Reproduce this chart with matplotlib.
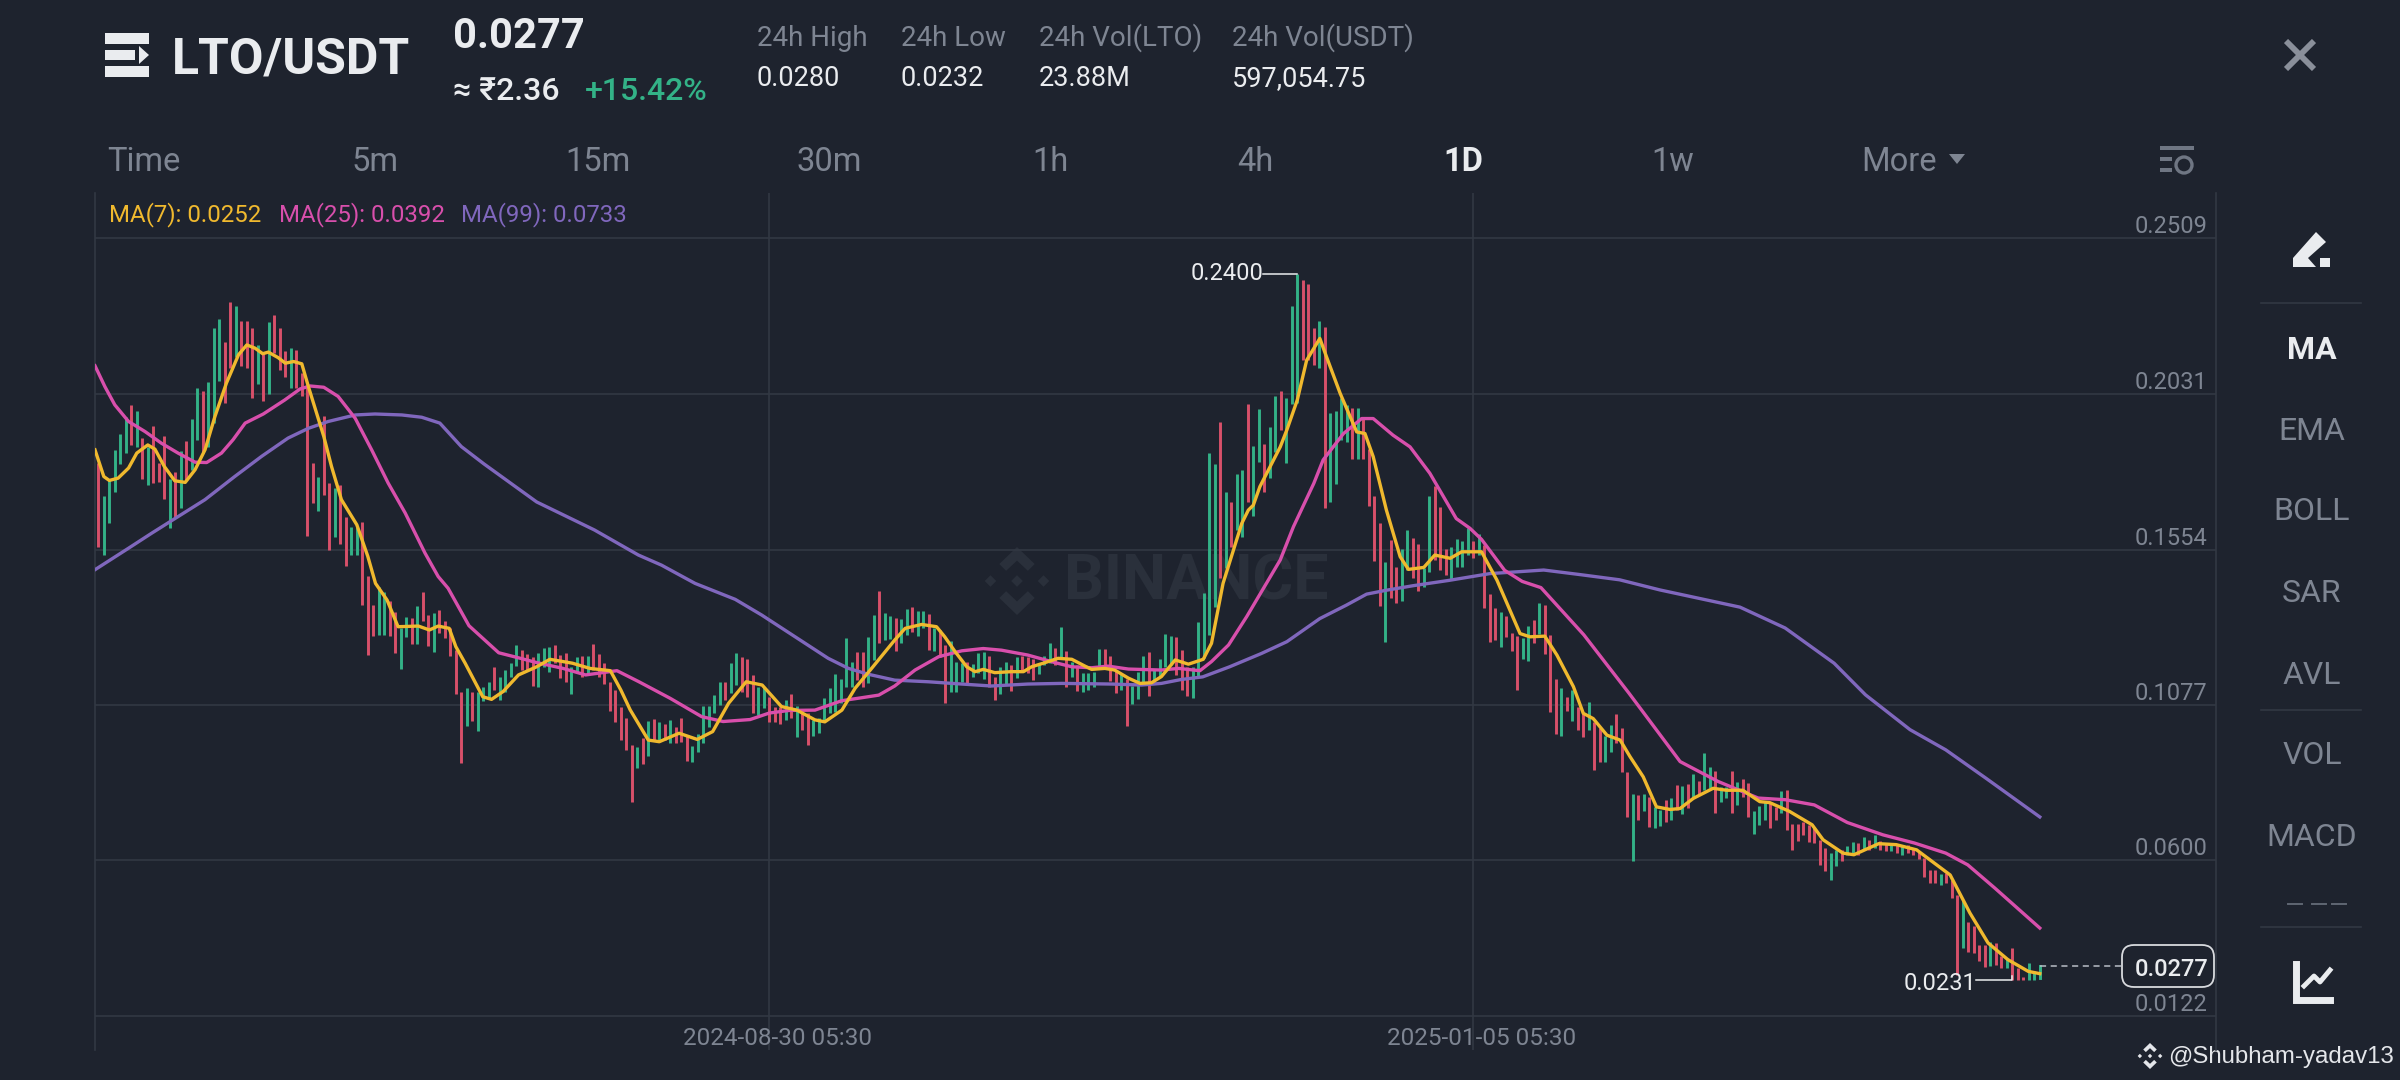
import matplotlib
matplotlib.use("Agg")
import matplotlib.pyplot as plt
from matplotlib.patches import Polygon, Rectangle, FancyBboxPatch, Circle
from matplotlib.transforms import ScaledTranslation

BG = "#1e232e"
GRID = "#323843"
GREY = "#7e8592"
WHITE = "#eaecef"
GREEN = "#33b287"
RED = "#d8506a"
YELLOW = "#f0b92e"
PINK = "#d84fac"
PURPLE = "#8067bd"

plt.rcParams["font.family"] = ["Roboto", "DejaVu Sans"]

highs = [
    .1819, .1719, .1768, .1860, .1909, .1962, .1998, .1980, .1896, .1870,
    .1932, .1819, .1903, .1770, .1793, .1855, .1886, .1955, .2049, .2041,
    .2067, .2233, .2262, .2192, .2313, .2300, .2254, .2254, .2233, .2182,
    .2157, .2252, .2274, .2233, .2162, .2172, .2167, .2095, .2059, .1819,
    .1778, .1964, .1758, .1742, .1753, .1655, .1623, .1623, .1637, .1473,
    .1384, .1438, .1425, .1395, .1361, .1313, .1348, .1343, .1381, .1423,
    .1354, .1359, .1367, .1333, .1313, .1245, .1116, .1128, .1116, .1118,
    .1133, .1148, .1192, .1164, .1184, .1207, .1261, .1246, .1233, .1225,
    .1237, .1251, .1254, .1261, .1230, .1237, .1194, .1225, .1227, .1227,
    .1263, .1232, .1207, .1148, .1123, .1070, .1036, .0954, .0947, .0975,
    .1029, .1033, .1026, .1019, .1031, .1010, .1036, .0985, .0951, .0988,
    .1074, .1074, .1108, .1148, .1148, .1207, .1237, .1223, .1217, .1169,
    .1133, .1133, .1102, .1072, .1072, .1092, .1109, .1074, .1056, .1053,
    .1031, .1038, .1097, .1128, .1171, .1158, .1281, .1210, .1238, .1238,
    .1284, .1353, .1427, .1360, .1350, .1343, .1340, .1370, .1376, .1365,
    .1365, .1356, .1312, .1307, .1261, .1274, .1210, .1205, .1210, .1202,
    .1235, .1240, .1228, .1164, .1192, .1208, .1199, .1225, .1227, .1223,
    .1217, .1207, .1228, .1266, .1251, .1317, .1243, .1210, .1199, .1174,
    .1174, .1179, .1248, .1248, .1227, .1184, .1174, .1158, .1135, .1179,
    .1228, .1238, .1186, .1218, .1295, .1289, .1284, .1245, .1194, .1194,
    .1332, .1421, .1849, .1818, .1946, .1731, .1701, .1786, .1798, .2000,
    .1871, .1985, .1877, .1931, .2025, .2041, .2018, .2301, .2400, .2381,
    .2369, .2233, .2256, .2238, .1974, .1980, .2018, .1997, .1987, .1987,
    .1961, .1864, .1718, .1634, .1516, .1583, .1501, .1557, .1614, .1588,
    .1571, .1496, .1718, .1749, .1683, .1557, .1562, .1585, .1580, .1619,
    .1580, .1603, .1568, .1417, .1373, .1363, .1351, .1299, .1289, .1281,
    .1319, .1339, .1391, .1385, .1291, .1155, .1128, .1102, .1122, .1071,
    .1051, .1087, .1025, .1005, .0981, .1015, .1049, .1005, .0872, .0805,
    .0800, .0805, .0795, .0764, .0754, .0785, .0790, .0831, .0828, .0834,
    .0865, .0844, .0930, .0887, .0875, .0826, .0824, .0875, .0841, .0851,
    .0836, .0752, .0766, .0780, .0777, .0764, .0814, .0816, .0712, .0712,
    .0719, .0709, .0699, .0663, .0637, .0622, .0632, .0632, .0645, .0655,
    .0653, .0673, .0663, .0678, .0658, .0651, .0651, .0648, .0648, .0648,
    .0637, .0627, .0607, .0571, .0571, .0559, .0561, .0540, .0494, .0479,
    .0412, .0397, .0341, .0341, .0348, .0346, .0305, .0300, .0330, .0269,
    .0243, .0286, .0259, .0279,
]
lows = [
    .1563, .1538, .1635, .1729, .1817, .1850, .1875, .1870, .1770, .1751,
    .1758, .1760, .1710, .1619, .1653, .1681, .1768, .1799, .1891, .1850,
    .1870, .1942, .2070, .2005, .2111, .2146, .2116, .2111, .2019, .2061,
    .2011, .2032, .2157, .2105, .2083, .2049, .2049, .2026, .1594, .1696,
    .1671, .1722, .1551, .1592, .1571, .1502, .1538, .1538, .1384, .1231,
    .1287, .1292, .1292, .1289, .1236, .1187, .1285, .1265, .1265, .1333,
    .1258, .1238, .1297, .1282, .1226, .1110, .0898, .1012, .1029, .0998,
    .1090, .1094, .1123, .1092, .1118, .1164, .1197, .1184, .1184, .1135,
    .1133, .1194, .1179, .1205, .1159, .1148, .1111, .1174, .1164, .1169,
    .1184, .1164, .1141, .1059, .1023, .0969, .0939, .0780, .0882, .0896,
    .0920, .0967, .0969, .0969, .0961, .0959, .0964, .0906, .0903, .0931,
    .0961, .1010, .1051, .1077, .1092, .1115, .1138, .1118, .1102, .1051,
    .1046, .1066, .1023, .1023, .1019, .1031, .1036, .0977, .1000, .0954,
    .0981, .0990, .1031, .1051, .1056, .1082, .1131, .1133, .1153, .1133,
    .1145, .1215, .1268, .1276, .1278, .1242, .1268, .1291, .1302, .1289,
    .1312, .1245, .1243, .1223, .1084, .1118, .1116, .1148, .1145, .1162,
    .1174, .1158, .1133, .1092, .1109, .1138, .1120, .1161, .1179, .1176,
    .1153, .1172, .1199, .1205, .1199, .1220, .1131, .1164, .1120, .1118,
    .1123, .1131, .1194, .1199, .1151, .1112, .1123, .1013, .1080, .1095,
    .1143, .1104, .1148, .1164, .1194, .1199, .1169, .1123, .1104, .1097,
    .1166, .1220, .1291, .1378, .1465, .1496, .1563, .1614, .1593, .1701,
    .1657, .1823, .1731, .1772, .1854, .1921, .1821, .2002, .2003, .2135,
    .2135, .2120, .2110, .1680, .1701, .1755, .1890, .1885, .1831, .1831,
    .1831, .1687, .1520, .1380, .1271, .1404, .1391, .1397, .1491, .1465,
    .1426, .1438, .1486, .1522, .1491, .1476, .1460, .1501, .1499, .1537,
    .1527, .1537, .1373, .1271, .1276, .1256, .1286, .1242, .1123, .1217,
    .1213, .1266, .1296, .1233, .1056, .0989, .0982, .1059, .1028, .0999,
    .0977, .1000, .0877, .0902, .0902, .0933, .0959, .0872, .0732, .0599,
    .0723, .0752, .0701, .0700, .0705, .0718, .0723, .0754, .0741, .0759,
    .0795, .0805, .0816, .0821, .0746, .0780, .0790, .0746, .0769, .0795,
    .0732, .0680, .0708, .0725, .0698, .0725, .0745, .0694, .0632, .0658,
    .0678, .0655, .0653, .0586, .0566, .0538, .0581, .0599, .0617, .0622,
    .0617, .0632, .0632, .0637, .0632, .0627, .0627, .0622, .0617, .0622,
    .0617, .0604, .0550, .0530, .0530, .0525, .0530, .0484, .0249, .0330,
    .0317, .0315, .0290, .0272, .0274, .0279, .0269, .0269, .0231, .0233,
    .0231, .0231, .0233, .0238,
]
directions = (
    "rgggggrgrg" "rrrgrgrggr" "gggrrgrrrg" "rgrrrgrrrr" "grrgrrggrr"
    "rggrrggrgr" "rgrrrrrgrg" "ggrggggrrr" "gggrrrggrg" "rrrrrrrrgr"
    "grgrgrrrgg" "ggggrggrrr" "ggrrrgrgrr" "ggggggggrr" "ggrggrggrg"
    "grgrrgggrg" "ggrrggrgrr" "rgggrgrgrg" "gggrrrgrgg" "grggggrrrg"
    "ggggrgrggr" "ggrggrgggr" "rrgrggggrg" "rrrrgrrggr" "rggrrrgggg"
    "rgrrrgrrrg" "grgrrrgrgr" "rgrrggrrrg" "rgrggrgrgr" "grggrggrgr"
    "rgggrrgrrr" "rrrrrggrgg" "rgrgrrgrgr" "rrrrrgrrrg" "rrrrgrrgrr"
    "rggg"
)

ma7_x = [-0.6, 1, 2, 3.6, 5.5, 7, 9, 10.3, 12, 13.9, 15.8, 17.6, 19.4, 21.2, 23.3, 25.5, 27, 28.5,
         29.9, 30.9, 32.7, 34, 35.5, 37, 38.2, 39.7, 41, 42.4, 44.2, 47, 49, 50.4, 52.5, 54.5, 58.2,
         60.2, 61.8, 63.8, 65, 66.7, 69.9, 71.5, 73.6, 76.4, 79.7, 82.1, 86.2, 89.4, 93.1, 95, 96.7,
         100, 102, 105.6, 108.9, 111.7, 114.6, 117.8, 120.7, 124.2, 127, 130.3, 132.1, 135.2, 137.6,
         140.6, 144.8, 146.7, 149.7, 152.4, 153.9, 155.8, 157.9, 159.4, 160.9, 163, 166, 168.2, 169.7,
         171.8, 174.5, 177, 179.4, 180.6, 183, 184.8, 187.3, 189.4, 191.5, 193.3, 195.8, 198.2, 200.9,
         202.4, 204.5, 207.9, 209.1, 210, 211.2, 214.9, 216.1, 218, 219.7, 222.1, 223.3, 225.8, 228.8,
         230.3, 231.8, 234.2, 236.7, 238.2, 241, 243, 245.8, 247.9, 251.5, 254.3, 258.5, 260.3, 263,
         265.2, 268.2, 270, 271.8, 274.3, 276.7, 278.5, 280.9, 283.3, 285.8, 287.6, 290, 293.6, 296,
         299, 302.1, 303.9, 307.5, 311.6, 313.6, 317.2, 319.2, 323.7, 326.9, 330.6, 336.7, 340.3,
         343.6, 347.2, 350.9, 353]
ma7_y = [.1860, .1778, .1766, .1773, .1804, .1850, .1875, .1862, .1809, .1765, .1760, .1799, .1860, .1962,
         .2065, .2152, .2182, .2172, .2155, .2160, .2143, .2126, .2131, .2124, .2054, .1972, .1901, .1809,
         .1707, .1630, .1533, .1450, .1399, .1317, .1319, .1307, .1319, .1312, .1256, .1205, .1102, .1094,
         .1118, .1169, .1194, .1217, .1205, .1189, .1182, .1123, .1062, .0969, .0964, .0990, .0971, .0995,
         .1082, .1148, .1138, .1072, .1061, .1031, .1025, .1061, .1128, .1189, .1276, .1312, .1324, .1317,
         .1286, .1240, .1194, .1179, .1186, .1176, .1179, .1179, .1194, .1205, .1220, .1217, .1196, .1186,
         .1189, .1184, .1159, .1143, .1145, .1164, .1215, .1202, .1217, .1266, .1450, .1634, .1675, .1690,
         .1747, .1869, .1921, .2013, .2135, .2202, .2146, .2033, .1915, .1910, .1839, .1675, .1532, .1493,
         .1499, .1537, .1527, .1547, .1547, .1460, .1296, .1286, .1288, .1230, .1133, .1051, .1035, .0984,
         .0969, .0918, .0856, .0764, .0756, .0759, .0790, .0821, .0815, .0815, .0780, .0777, .0750, .0709,
         .0663, .0622, .0617, .0651, .0648, .0632, .0555, .0438, .0346, .0295, .0259, .0252]

ma25_x = [-0.6, 1.2, 3, 5.5, 8.5, 11.5, 14.5, 17.6, 19.7, 22.4, 24.5, 26.7, 30, 33.9, 36.7, 38.5, 41, 43.6,
          46.7, 49.7, 52.7, 55.8, 59.4, 61.8, 63.6, 67.4, 72.8, 75.6, 79.7, 84.5, 88.6, 94.3, 98.3, 104,
          109.7, 113.6, 118.5, 122, 125.6, 130.3, 135.2, 138.8, 141.9, 144.8, 148.5, 152.8, 157, 160.9,
          164.2, 169, 173.9, 177, 180.6, 183.6, 187.3, 193.3, 196.4, 200.3, 202.4, 205.5, 208.8, 214.9,
          217.3, 221, 222.7, 226.4, 229.7, 231.8, 235.4, 238.5, 242.1, 246.9, 249.4, 251.5, 255.7, 258.9,
          262.3, 270.1, 278.3, 287.6, 294.5, 301.8, 306.7, 312, 318, 324.5, 330.2, 335.9, 339.9, 344.8, 353]
ma25_y = [.2118, .2054, .1998, .1947, .1916, .1880, .1850, .1822, .1821, .1850, .1891, .1942, .1970, .2013,
          .2047, .2056, .2052, .2024, .1957, .1860, .1758, .1666, .1543, .1471, .1435, .1320, .1237, .1225,
          .1207, .1189, .1169, .1182, .1148, .1097, .1041, .1026, .1032, .1052, .1060, .1061, .1090, .1099,
          .1107, .1135, .1184, .1225, .1243, .1250, .1245, .1230, .1207, .1194, .1191, .1196, .1187, .1184,
          .1189, .1182, .1210, .1261, .1348, .1522, .1624, .1757, .1829, .1910, .1956, .1956, .1905, .1869,
          .1788, .1649, .1619, .1585, .1490, .1456, .1437, .1292, .1113, .0903, .0842, .0791, .0786, .0770,
          .0716, .0678, .0653, .0622, .0586, .0515, .0392]

ma99_x = [-0.6, 5.5, 9.7, 14.5, 19.4, 24.8, 29.7, 34.5, 38.2, 41.8, 46.7, 50.3, 55.2, 58.8, 62.1, 66, 70.1,
          79.7, 90.2, 98.2, 102.4, 108.5, 115.8, 120.6, 126.7, 132.7, 136.4, 140, 144.8, 150.9, 157,
          162.4, 169, 175.2, 184.2, 189.7, 193.3, 196.9, 200.8, 205.7, 211.5, 216.1, 222.1, 226.9, 230.6,
          234.2, 239.1, 245.5, 253, 262.8, 269.4, 276.6, 283.9, 298.5, 306.7, 315.6, 321.3, 329.4, 335.9,
          343.2, 353]
ma99_y = [.1492, .1558, .1604, .1655, .1707, .1778, .1840, .1896, .1926, .1947, .1967, .1970, .1967, .1960,
          .1942, .1870, .1817, .1700, .1614, .1537, .1506, .1450, .1401, .1353, .1286, .1220, .1189, .1171,
          .1153, .1148, .1141, .1135, .1141, .1143, .1141, .1138, .1143, .1155, .1163, .1194, .1235, .1271,
          .1342, .1383, .1417, .1429, .1443, .1459, .1480, .1491, .1477, .1461, .1430, .1377, .1313, .1205,
          .1108, .1001, .0939, .0852, .0733]

y_tick_values = [.0122, .0600, .1077, .1554, .2031, .2509]
x_tick_index = [122, 250]
x_tick_labels = ["2024-08-30 05:30", "2025-01-05 05:30"]
last_price = 0.0277

# pixel layout of the chart pane, spacing per daily bar
PANE_L, PANE_R, PANE_T, PANE_B = 95, 2216, 193, 1050
X0, STEP = 98.3, 5.5
PRICE_PER_PX = (.2509 - .0122) / 777.6

fig = plt.figure(figsize=(24, 10.8), dpi=100, facecolor=BG)

# app chrome, drawn in pixel coordinates behind the chart
ui = fig.add_axes([0, 0, 1, 1], zorder=0)
ui.set_xlim(0, 2400)
ui.set_ylim(1080, 0)
ui.axis("off")


def label(x, y, s, size, color=GREY, ha="left", weight="normal", **kw):
    ui.text(x, y, s, fontsize=size, color=color, ha=ha, va="center", fontweight=weight, **kw)


def binance_logo(cx, cy, r, color):
    # small diamonds left, right and centre, chevrons above and below
    d = r * 0.17
    for dx in (-r * 0.78, 0, r * 0.78):
        ui.add_patch(Polygon([(cx + dx - d, cy), (cx + dx, cy - d), (cx + dx + d, cy), (cx + dx, cy + d)], color=color, lw=0))
    for sgn in (-1, 1):
        ui.add_patch(Polygon([(cx - r * .52, cy + sgn * r * .5), (cx, cy + sgn * r), (cx + r * .52, cy + sgn * r * .5),
                              (cx + r * .32, cy + sgn * r * .3), (cx, cy + sgn * r * .6), (cx - r * .32, cy + sgn * r * .3)],
                             color=color, lw=0))


# header
ui.add_patch(Rectangle((105, 33), 44, 11, color=WHITE, lw=0))
ui.add_patch(Rectangle((105, 50), 30, 10, color=WHITE, lw=0))
ui.add_patch(Polygon([(139, 46), (149, 55), (139, 64)], color=WHITE, lw=0))
ui.add_patch(Rectangle((105, 66), 44, 11, color=WHITE, lw=0))
label(172, 60, "LTO/USDT", 36, WHITE, weight="bold")
label(453, 37, "0.0277", 30, WHITE, weight="bold")
label(453, 91, "≈ ₹2.36", 23, WHITE, weight="medium")
label(585, 91, "+15.42%", 23, GREEN, weight="medium")

stat_x = [757, 901, 1039, 1232]
stat_names = ["24h High", "24h Low", "24h Vol(LTO)", "24h Vol(USDT)"]
stat_values = ["0.0280", "0.0232", "23.88M", "597,054.75"]
for x, name, value in zip(stat_x, stat_names, stat_values):
    label(x, 38, name, 20)
    label(x, 79, value, 19.5, WHITE)

ui.plot([2286, 2314], [41, 69], color="#8a8f9a", lw=4.2, solid_capstyle="butt")
ui.plot([2314, 2286], [41, 69], color="#8a8f9a", lw=4.2, solid_capstyle="butt")

# interval row
tab_x = [107, 351, 565, 796, 1032, 1237, 1443, 1651, 1861]
tab_names = ["Time", "5m", "15m", "30m", "1h", "4h", "1D", "1w", "More"]
for x, name in zip(tab_x, tab_names):
    if name == "1D":
        label(x, 162, name, 23.5, WHITE, weight="bold")
    else:
        label(x, 162, name, 23.5)
ui.add_patch(Polygon([(1949, 154), (1965, 154), (1957, 164)], color=GREY, lw=0))
ui.add_patch(Rectangle((2160, 146), 34, 4, color="#6f7683", lw=0))
ui.add_patch(Rectangle((2160, 157), 12, 4, color="#6f7683", lw=0))
ui.add_patch(Rectangle((2160, 168), 12, 4, color="#6f7683", lw=0))
ui.add_patch(Circle((2184, 165), 8, fill=False, ec="#6f7683", lw=2.4))

# indicator legend
label(109, 215, "MA(7): 0.0252", 17.3, YELLOW)
label(279, 215, "MA(25): 0.0392", 17.3, PINK)
label(461, 215, "MA(99): 0.0733", 17.3, PURPLE)

# watermark behind the bars
binance_logo(1017, 581, 34, "#2a303b")
label(1064, 582, "BINANCE", 45, "#2a303b", weight="bold")

# side panel
ui.add_patch(Polygon([(2293, 267), (2293, 258), (2316, 232), (2326, 242), (2308, 258), (2316, 267)], color=WHITE, lw=0))
ui.add_patch(Rectangle((2320, 258), 10, 9, color=WHITE, lw=0))
for y in (303, 710, 927):
    ui.plot([2261, 2361], [y, y], color=GRID, lw=1.2)
side_y = [350, 431, 512, 593, 675, 756, 837]
side_names = ["MA", "EMA", "BOLL", "SAR", "AVL", "VOL", "MACD"]
for y, name in zip(side_y, side_names):
    if name == "MA":
        label(2312, y, name, 23, WHITE, ha="center", weight="bold")
    else:
        label(2312, y, name, 23, ha="center")
for x in (2288, 2312, 2332):
    ui.plot([x, x + 14], [904, 904], color="#5f6672", lw=1.4)
ui.plot([2296, 2296, 2330], [964, 1000, 1000], color=WHITE, lw=5, solid_joinstyle="miter")
ui.plot([2304, 2314, 2320, 2330], [986, 976, 982, 970], color=WHITE, lw=3.5)

# repost tag
binance_logo(2150, 1056, 13, "#e4e6ea")
ui.text(2168, 1057, "@Shubham-yadav13", fontsize=17.3, color="#e4e6ea", family="Liberation Sans", ha="left", va="center")

# chart pane
ax = fig.add_axes([PANE_L / 2400, 1 - PANE_B / 1080, (PANE_R - PANE_L) / 2400, (PANE_B - PANE_T) / 1080], zorder=1)
ax.patch.set_alpha(0)
ax.set_xlim((PANE_L - X0) / STEP, (PANE_R - X0) / STEP)
ax.set_ylim(.0122 - (PANE_B - 1016) * PRICE_PER_PX, .0122 + (1016 - PANE_T) * PRICE_PER_PX)

idx = list(range(len(highs)))
bar_colors = [GREEN if d == "g" else RED for d in directions]
ax.vlines(idx, lows, highs, colors=bar_colors, lw=2.1, zorder=3)

ax.plot(ma99_x, ma99_y, color=PURPLE, lw=2.4, zorder=4)
ax.plot(ma25_x, ma25_y, color=PINK, lw=2.4, zorder=5)
ax.plot(ma7_x, ma7_y, color=YELLOW, lw=2.4, zorder=6)

ax.grid(True, color=GRID, lw=1.2, zorder=1)
for name in ("top", "bottom"):
    ax.spines[name].set_visible(False)
for name in ("left", "right"):
    ax.spines[name].set_color(GRID)
    ax.spines[name].set_linewidth(1.2)

ax.yaxis.tick_right()
ax.set_yticks(y_tick_values)
ax.set_yticklabels([f"{v:.4f}" for v in y_tick_values], ha="right", va="bottom")
ax.tick_params(axis="y", length=0, pad=-6, labelsize=17, labelcolor=GREY)
ax.set_xticks(x_tick_index)
ax.set_xticklabels(x_tick_labels)
ax.tick_params(axis="x", length=0, pad=-16.5, labelsize=17.5, labelcolor=GREY)
for lbl in ax.get_xticklabels():
    lbl.set_transform(lbl.get_transform() + ScaledTranslation(8 / 100, 0, fig.dpi_scale_trans))

# high and low markers
hi = max(highs)
hi_i = highs.index(hi)
ax.plot([hi_i - 6.2, hi_i], [hi, hi], color=WHITE, lw=1.1, zorder=7)
ax.text(hi_i - 6.2, hi, f"{hi:.4f}", color=WHITE, fontsize=17, ha="right", va="center", zorder=7)
lo = min(lows)
lo_i = lows.index(lo)
ax.plot([lo_i - 6.6, lo_i, lo_i], [lo, lo, lo + .0014], color=WHITE, lw=1.1, zorder=7)
ax.text(lo_i - 6.6, lo - .0009, f"{lo:.4f}", color=WHITE, fontsize=17, ha="right", va="center", zorder=7)

# last price line and tag
ax.plot([len(highs) - 1, (2122 - X0) / STEP], [last_price, last_price], color="#b9bdc6", lw=1.1, ls=(0, (4, 3)), zorder=7)
ax.plot([len(highs) - 1, len(highs) - 1], [last_price, lows[-1]], color=GREEN, lw=2.1, zorder=3)
ui.add_patch(FancyBboxPatch((2130, 953), 76, 26, boxstyle="round,pad=8,rounding_size=12", fc=BG, ec="#d8dade", lw=1.3))
label(2208, 969, f"{last_price:.4f}", 17, WHITE, ha="right", weight="medium")

plt.savefig("out.png", dpi=100, facecolor=BG)
